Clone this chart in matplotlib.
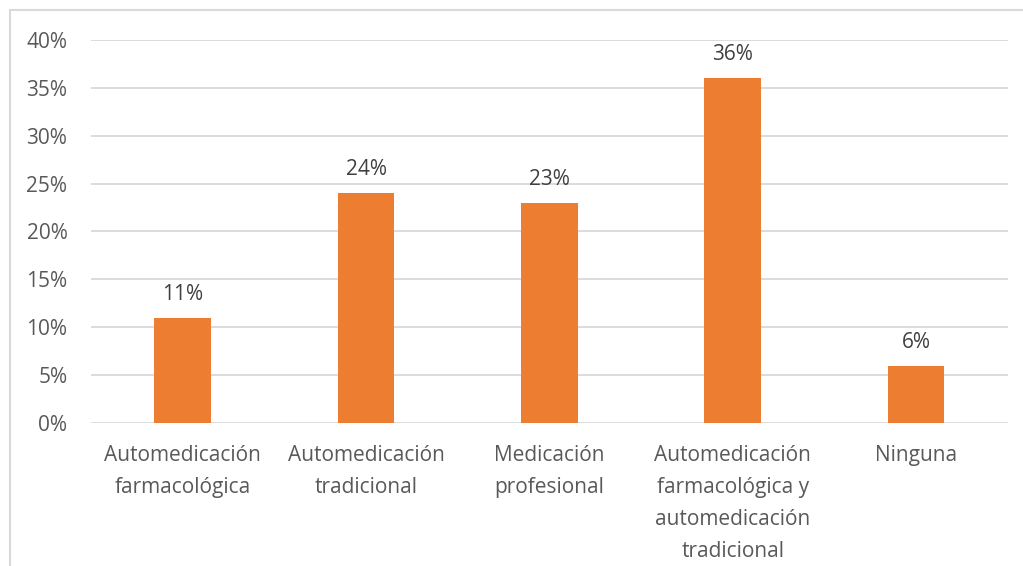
import numpy as np
import matplotlib.pyplot as plt
from matplotlib.lines import Line2D

categories = ["Automedicación\nfarmacológica", "Automedicación\ntradicional",
              "Medicación\nprofesional",
              "Automedicación\nfarmacológica y\nautomedicación\ntradicional",
              "Ninguna"]
values = [11, 24, 23, 36, 6]
yticks = [0, 5, 10, 15, 20, 25, 30, 35, 40]

plt.rcParams['font.family'] = ['Open Sans', 'DejaVu Sans']

fig = plt.figure(figsize=(10.23, 5.66), dpi=100)
ax = fig.add_axes([0.089, 0.2527, 0.896, 0.6766])

x = np.arange(len(categories))
bars = ax.bar(x, values, width=0.31, color='#ED7D31', zorder=3)

for xi, v in zip(x, values):
    ax.text(xi, v + 1.35, f"{v}%", ha='center', va='bottom', fontsize=15, color='#404040')

ax.set_xlim(-0.5, len(categories) - 0.5)
ax.set_ylim(0, 40)
ax.set_yticks(yticks)
ax.set_yticklabels([f"{t}%" for t in yticks])
ax.set_xticks(x)
ax.set_xticklabels(categories, linespacing=1.68)
ax.tick_params(axis='both', length=0, labelsize=15, colors='#595959')
ax.tick_params(axis='y', pad=17)
ax.tick_params(axis='x', pad=16)
ax.yaxis.grid(True, color='#D9D9D9', linewidth=1.3, zorder=0)
for s in ax.spines.values():
    s.set_visible(False)

# outer chart border (top and left visible)
fig.add_artist(Line2D([0.0098, 1.0], [1 - 10 / 566] * 2, color='#D9D9D9', linewidth=1.5,
                      transform=fig.transFigure))
fig.add_artist(Line2D([0.0098, 0.0098], [0, 1 - 10 / 566], color='#D9D9D9', linewidth=1.5,
                      transform=fig.transFigure))

fig.savefig("out.png", dpi=100)
